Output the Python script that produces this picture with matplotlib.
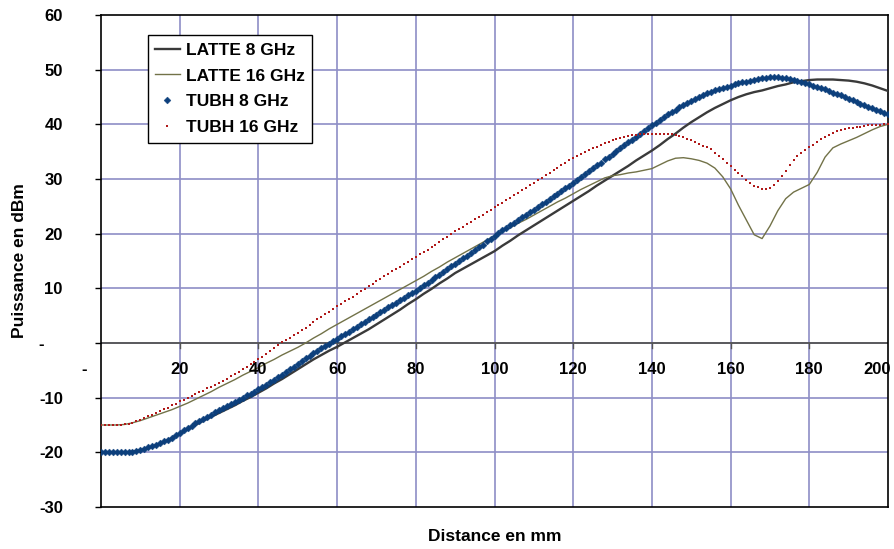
import numpy as np
import matplotlib
matplotlib.use("Agg")
import matplotlib.pyplot as plt

plt.rcParams['font.family'] = ['Liberation Sans', 'DejaVu Sans']
plt.rcParams['font.weight'] = 'bold'

# distances in mm
dist_1mm = np.arange(0, 201, 1)
dist_2mm = np.arange(0, 201, 2)

# LATTE 8 GHz, every 2 mm
latte_8 = [
    -20.0, -20.0, -20.0, -20.0, -19.9, -19.6, -19.2, -18.7, -18.1, -17.4,
    -16.6, -15.8, -15.0, -14.2, -13.5, -12.8, -12.1, -11.4, -10.6, -9.9,
    -9.1, -8.3, -7.4, -6.6, -5.7, -4.8, -3.9, -3.0, -2.2, -1.4,
    -0.7, 0.1, 0.9, 1.7, 2.5, 3.4, 4.3, 5.2, 6.1, 7.1,
    8.0, 9.0, 9.9, 10.9, 11.8, 12.8, 13.6, 14.4, 15.2, 16.0,
    16.8, 17.8, 18.7, 19.7, 20.6, 21.5, 22.4, 23.3, 24.2, 25.1,
    26.0, 26.9, 27.8, 28.8, 29.7, 30.6, 31.5, 32.4, 33.4, 34.3,
    35.2, 36.2, 37.3, 38.3, 39.4, 40.4, 41.3, 42.2, 43.0, 43.7,
    44.4, 45.0, 45.5, 45.9, 46.2, 46.6, 47.0, 47.3, 47.7, 47.9,
    48.1, 48.2, 48.2, 48.2, 48.1, 48.0, 47.8, 47.5, 47.1, 46.6,
    46.1,
]

# LATTE 16 GHz, every 2 mm
latte_16 = [
    -15.0, -15.0, -15.0, -14.9, -14.6, -14.2, -13.7, -13.2, -12.7, -12.2,
    -11.6, -11.0, -10.3, -9.6, -8.9, -8.1, -7.4, -6.7, -5.9, -5.2,
    -4.5, -3.7, -3.0, -2.2, -1.5, -0.8, 0.0, 0.9, 1.7, 2.6,
    3.4, 4.2, 5.0, 5.8, 6.6, 7.4, 8.2, 9.0, 9.8, 10.6,
    11.4, 12.2, 13.1, 13.9, 14.8, 15.6, 16.4, 17.2, 18.0, 18.8,
    19.6, 20.4, 21.1, 21.9, 22.6, 23.4, 24.2, 25.0, 25.8, 26.5,
    27.3, 28.1, 28.8, 29.5, 30.2, 30.6, 30.8, 31.1, 31.3, 31.6,
    31.9, 32.6, 33.3, 33.8, 33.9, 33.7, 33.4, 32.9, 32.0, 30.4,
    28.2, 25.2, 22.5, 19.8, 19.1, 21.4, 24.2, 26.4, 27.6, 28.3,
    29.0, 31.2, 34.0, 35.7, 36.4, 37.0, 37.6, 38.3, 39.0, 39.6,
    40.0,
]

# TUBH 8 GHz, every 1 mm
tubh_8 = [
    -20.0, -20.0, -20.0, -20.0, -20.0, -20.0, -20.0, -20.0, -19.9, -19.8,
    -19.6, -19.4, -19.1, -18.9, -18.6, -18.3, -18.0, -17.7, -17.3, -16.9,
    -16.5, -16.0, -15.6, -15.2, -14.7, -14.3, -13.9, -13.5, -13.1, -12.7,
    -12.3, -11.9, -11.5, -11.2, -10.8, -10.4, -10.0, -9.6, -9.3, -8.9,
    -8.5, -8.1, -7.6, -7.2, -6.7, -6.3, -5.8, -5.3, -4.8, -4.3,
    -3.8, -3.3, -2.8, -2.4, -1.9, -1.4, -1.0, -0.6, -0.1, 0.3,
    0.7, 1.2, 1.6, 2.1, 2.5, 3.0, 3.4, 3.9, 4.3, 4.8,
    5.2, 5.6, 6.1, 6.5, 7.0, 7.4, 7.8, 8.3, 8.7, 9.2,
    9.6, 10.1, 10.6, 11.0, 11.5, 12.0, 12.5, 13.0, 13.5, 14.0,
    14.5, 15.0, 15.5, 16.0, 16.5, 17.0, 17.5, 18.0, 18.6, 19.1,
    19.6, 20.1, 20.6, 21.0, 21.5, 22.0, 22.5, 23.0, 23.4, 23.9,
    24.4, 24.9, 25.4, 25.8, 26.3, 26.8, 27.3, 27.8, 28.3, 28.8,
    29.3, 29.8, 30.4, 30.9, 31.5, 32.0, 32.5, 33.0, 33.6, 34.1,
    34.6, 35.1, 35.6, 36.2, 36.7, 37.2, 37.7, 38.2, 38.8, 39.3,
    39.8, 40.3, 40.8, 41.3, 41.8, 42.2, 42.6, 43.1, 43.5, 43.9,
    44.3, 44.7, 45.0, 45.4, 45.7, 46.0, 46.2, 46.5, 46.7, 46.9,
    47.1, 47.3, 47.5, 47.7, 47.8, 48.0, 48.1, 48.3, 48.4, 48.5,
    48.6, 48.6, 48.6, 48.5, 48.4, 48.3, 48.1, 47.9, 47.8, 47.6,
    47.4, 47.1, 46.9, 46.6, 46.4, 46.1, 45.8, 45.5, 45.3, 45.0,
    44.7, 44.4, 44.1, 43.8, 43.5, 43.2, 42.9, 42.6, 42.4, 42.1,
    41.8,
]

# TUBH 16 GHz, every 1 mm
tubh_16 = [
    -15.0, -15.0, -15.0, -15.0, -15.0, -15.0, -14.9, -14.8, -14.6, -14.3,
    -14.0, -13.7, -13.4, -13.1, -12.8, -12.5, -12.1, -11.8, -11.4, -11.1,
    -10.7, -10.4, -10.0, -9.7, -9.3, -9.0, -8.7, -8.3, -8.0, -7.6,
    -7.3, -6.9, -6.5, -6.1, -5.7, -5.3, -4.8, -4.4, -3.9, -3.5,
    -3.0, -2.5, -2.0, -1.4, -0.9, -0.4, 0.1, 0.5, 1.0, 1.4,
    1.8, 2.3, 2.8, 3.3, 3.8, 4.3, 4.8, 5.3, 5.7, 6.2,
    6.7, 7.2, 7.6, 8.1, 8.5, 9.0, 9.5, 9.9, 10.4, 10.8,
    11.3, 11.7, 12.2, 12.6, 13.1, 13.5, 13.9, 14.4, 14.8, 15.3,
    15.7, 16.2, 16.6, 17.1, 17.5, 18.0, 18.5, 19.0, 19.4, 19.9,
    20.4, 20.8, 21.3, 21.7, 22.2, 22.6, 23.0, 23.5, 23.9, 24.4,
    24.8, 25.3, 25.7, 26.2, 26.6, 27.1, 27.5, 28.0, 28.4, 28.9,
    29.3, 29.8, 30.2, 30.7, 31.1, 31.6, 32.0, 32.5, 32.9, 33.4,
    33.8, 34.2, 34.6, 34.9, 35.3, 35.6, 35.9, 36.2, 36.5, 36.8,
    37.1, 37.3, 37.5, 37.7, 37.9, 38.0, 38.1, 38.2, 38.2, 38.3,
    38.3, 38.3, 38.3, 38.3, 38.3, 38.2, 38.0, 37.8, 37.6, 37.4,
    37.1, 36.8, 36.4, 36.1, 35.8, 35.4, 34.8, 34.2, 33.6, 33.0,
    32.4, 31.7, 31.1, 30.5, 29.9, 29.3, 28.8, 28.5, 28.2, 28.1,
    28.3, 28.9, 29.6, 30.5, 31.4, 32.5, 33.5, 34.2, 34.8, 35.3,
    35.8, 36.3, 36.8, 37.3, 37.7, 38.1, 38.5, 38.7, 38.9, 39.1,
    39.3, 39.4, 39.5, 39.6, 39.7, 39.8, 39.8, 39.9, 39.9, 40.0,
    40.0,
]

y_ticks = [-30, -20, -10, 0, 10, 20, 30, 40, 50, 60]
y_labels = ['-30', '-20', '-10', '-    ', '10', '20', '30', '40', '50', '60']
x_ticks = [0, 20, 40, 60, 80, 100, 120, 140, 160, 180, 200]
x_labels = ['-       ', '20', '40', '60', '80', '100', '120', '140', '160', '180', '200']

fig = plt.figure(figsize=(8.95, 5.49), dpi=100)
ax = fig.add_axes([101 / 895, 1 - 507 / 549, 787 / 895, 492 / 549])

grid_col = '#8e8ec6'
for xv in x_ticks[1:-1]:
    ax.axvline(xv, color=grid_col, lw=1.2, zorder=1)
for yv in y_ticks[1:-1]:
    ax.axhline(yv, color=grid_col, lw=1.2, zorder=1)
ax.axhline(0, color='#555555', lw=1.3, zorder=1.5)

ax.plot(dist_2mm, latte_8, color='#3a3a3a', lw=1.7, zorder=3, label='LATTE 8 GHz')
ax.plot(dist_2mm, latte_16, color='#727248', lw=1.0, zorder=3, label='LATTE 16 GHz')
ax.plot(dist_1mm, tubh_8, ls='none', marker='D', ms=3.5, mfc='#0c3f7c',
        mec='#0c3f7c', mew=0.3, zorder=4, label='TUBH 8 GHz')
ax.plot(dist_1mm, tubh_16, ls='none', marker='s', ms=2.0, mfc='#b01a1a',
        mec='#b01a1a', mew=0, zorder=4, label='TUBH 16 GHz')

ax.set_xlim(0, 200)
ax.set_ylim(-30, 60)

for sp in ax.spines.values():
    sp.set_color('black')
    sp.set_linewidth(1.2)

ax.set_yticks(y_ticks)
ax.set_yticklabels(y_labels, fontsize=12, fontweight='bold')
ax.tick_params(axis='y', direction='out', length=4.5, width=1.0, pad=23)
ax.set_xticks([])

# x tick labels sit just under the zero line
for xv, lbl in zip(x_ticks, x_labels):
    dx = -8 if xv == 200 else 0
    ax.annotate(lbl, (xv, 0), xytext=(dx, -19), textcoords='offset points',
                ha='center', va='center', fontsize=12, fontweight='bold',
                annotation_clip=False)
for xv in x_ticks[1:-1]:
    ax.plot([xv, xv], [0, -0.9], color='#555555', lw=1.0, zorder=1.6)

ax.set_ylabel('Puissance en dBm', fontsize=12.5, fontweight='bold')
ax.yaxis.set_label_coords(-0.094, 0.5)
ax.set_xlabel('Distance en mm', fontsize=12.5, fontweight='bold', labelpad=16)

leg = ax.legend(loc='upper left', bbox_to_anchor=(0.0597, 0.959), borderaxespad=0,
                fancybox=False, framealpha=1, edgecolor='black',
                handlelength=1.4, handletextpad=0.35, labelspacing=0.62,
                borderpad=0.42, prop={'weight': 'bold', 'size': 12.5})
leg.get_frame().set_linewidth(1.0)
leg.set_zorder(10)

fig.savefig('out.png', dpi=100)
